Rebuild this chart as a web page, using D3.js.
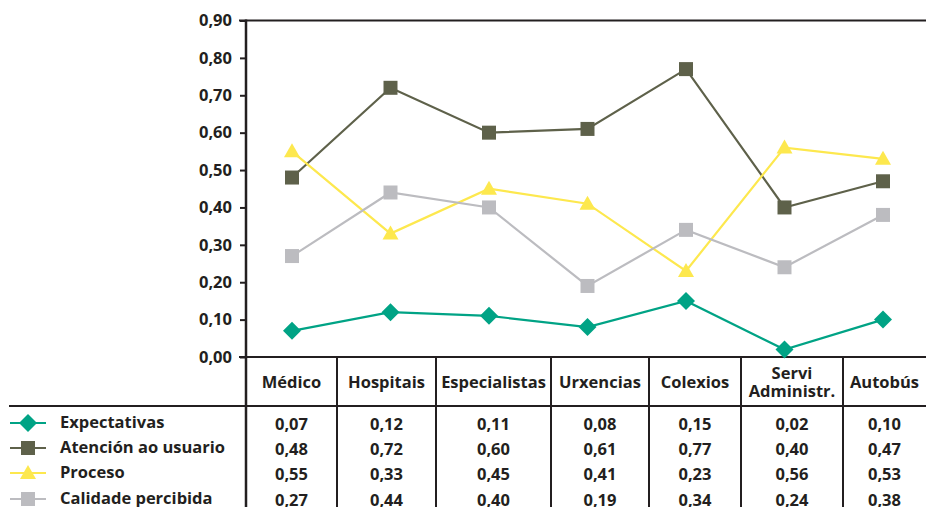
<!DOCTYPE html>
<html>
<head>
<meta charset="utf-8">
<script src="https://cdn.jsdelivr.net/npm/d3@7"></script>
<style>
  html, body { margin: 0; padding: 0; background: #fff; }
  svg { display: block; }
  text { font-family: "Open Sans", "Noto Sans", sans-serif; font-weight: 700; fill: #231f20; }
</style>
</head>
<body>
<svg id="chart" width="926" height="507"></svg>
<script>
// Categories (table column headers; "\n" splits a header over two lines)
const categories = ["Médico", "Hospitais", "Especialistas", "Urxencias", "Colexios", "Servi\nAdministr.", "Autobús"];

// Series names and values
const seriesNames = ["Expectativas", "Atención ao usuario", "Proceso", "Calidade percibida"];
const expectativas = [0.07, 0.12, 0.11, 0.08, 0.15, 0.02, 0.10];
const atencion     = [0.48, 0.72, 0.60, 0.61, 0.77, 0.40, 0.47];
const proceso      = [0.55, 0.33, 0.45, 0.41, 0.23, 0.56, 0.53];
const calidade     = [0.27, 0.44, 0.40, 0.19, 0.34, 0.24, 0.38];

// Y axis tick values
const yTicks = [0, 0.1, 0.2, 0.3, 0.4, 0.5, 0.6, 0.7, 0.8, 0.9];

const seriesValues = [expectativas, atencion, proceso, calidade];
const styles = [
  { color: "#00a385", marker: "diamond" },
  { color: "#5e614a", marker: "square" },
  { color: "#fde84e", marker: "triangle" },
  { color: "#bcbcc0", marker: "square" }
];

const svg = d3.select("#chart");
const ink = "#231f20";

const axisX = 246, plotRight = 926, plotTop = 20.5, plotBottom = 357;
const headerBottom = 406;
// Column separators of the data table
const colEdges = [246, 337, 436, 551, 649, 741, 843, 926];
const rowY = [423, 448, 473, 499];

const y = d3.scaleLinear().domain([0, 0.9]).range([plotBottom, plotTop]);
const x = d3.scalePoint().domain(categories).range([292, 883]);

const locale = d3.formatLocale({ decimal: ",", thousands: ".", grouping: [3], currency: ["", " €"] });
const fmt = locale.format(".2f");

// Frame lines: top border, zero line, header bottom, column separators
svg.append("line").attr("x1", 239).attr("x2", plotRight).attr("y1", plotTop).attr("y2", plotTop)
  .attr("stroke", ink).attr("stroke-width", 2);
svg.append("line").attr("x1", 239).attr("x2", plotRight).attr("y1", plotBottom).attr("y2", plotBottom)
  .attr("stroke", ink).attr("stroke-width", 2);
svg.append("line").attr("x1", 9).attr("x2", plotRight).attr("y1", headerBottom).attr("y2", headerBottom)
  .attr("stroke", ink).attr("stroke-width", 2);
svg.selectAll("line.sep").data(colEdges.slice(1, -1)).join("line").attr("class", "sep")
  .attr("x1", d => d).attr("x2", d => d).attr("y1", plotBottom).attr("y2", 507)
  .attr("stroke", ink).attr("stroke-width", 2);
svg.append("line").attr("x1", axisX).attr("x2", axisX).attr("y1", plotTop - 1).attr("y2", 507)
  .attr("stroke", ink).attr("stroke-width", 2.5);

// Y axis
const yAxis = d3.axisLeft(y).tickValues(yTicks).tickFormat(fmt).tickSize(6).tickPadding(8);
const gy = svg.append("g").attr("transform", `translate(${axisX},0)`).call(yAxis);
gy.select(".domain").remove();
gy.selectAll(".tick line").attr("stroke", ink).attr("stroke-width", 2);
gy.selectAll(".tick text").attr("font-size", 16.5).attr("fill", ink)
  .style("font-family", '"Open Sans", sans-serif').style("font-weight", 700);

// Marker shapes
function markerPath(type) {
  if (type === "diamond") return "M0,-9L9,0L0,9L-9,0Z";
  if (type === "square") return "M-7,-7H7V7H-7Z";
  return "M0,-8L8,6H-8Z";
}

// Lines and markers
const line = d3.line().x((d, i) => x(categories[i])).y(d => y(d));
seriesValues.forEach((vals, s) => {
  const g = svg.append("g");
  g.append("path").datum(vals).attr("d", line)
    .attr("fill", "none").attr("stroke", styles[s].color).attr("stroke-width", 2.2);
  g.selectAll("path.m").data(vals).join("path").attr("class", "m")
    .attr("d", markerPath(styles[s].marker))
    .attr("transform", (d, i) => `translate(${x(categories[i])},${y(d)})`)
    .attr("fill", styles[s].color);
});

// Table header
categories.forEach((c, i) => {
  const cx = (colEdges[i] + colEdges[i + 1]) / 2;
  const parts = c.split("\n");
  const t = svg.append("text").attr("text-anchor", "middle").attr("font-size", 16.5);
  if (parts.length === 1) {
    t.attr("x", cx).attr("y", 381).attr("dominant-baseline", "central").text(parts[0]);
  } else {
    t.selectAll("tspan").data(parts).join("tspan")
      .attr("x", cx).attr("y", (d, k) => 372 + k * 18).attr("dominant-baseline", "central").text(d => d);
  }
});

// Table body: legend key + values
seriesValues.forEach((vals, s) => {
  const ry = rowY[s];
  svg.append("line").attr("x1", 10).attr("x2", 46).attr("y1", ry).attr("y2", ry)
    .attr("stroke", styles[s].color).attr("stroke-width", 2.2);
  svg.append("path").attr("d", markerPath(styles[s].marker))
    .attr("transform", `translate(28,${ry})`).attr("fill", styles[s].color);
  svg.append("text").attr("x", 60).attr("y", ry - 2).attr("dominant-baseline", "central")
    .attr("font-size", 16.5).text(seriesNames[s]);
  svg.selectAll(null).data(vals).join("text")
    .attr("x", (d, i) => (colEdges[i] + colEdges[i + 1]) / 2)
    .attr("y", ry).attr("dominant-baseline", "central").attr("text-anchor", "middle")
    .attr("font-size", 16.5).text(d => fmt(d));
});
</script>
</body>
</html>
